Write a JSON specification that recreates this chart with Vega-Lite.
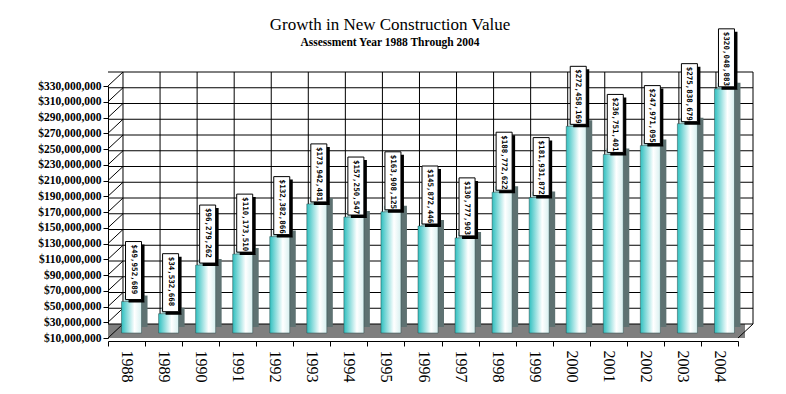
{
  "$schema": "https://vega.github.io/schema/vega-lite/v6.json",
  "width": 630,
  "height": 252,
  "autosize": {"type": "none"},
  "padding": {"left": 108, "top": 86, "right": 48, "bottom": 56},
  "background": "white",
  "config": {"view": {"stroke": null}, "axisY": {"labelOverlap": false}, "axis": {"labelOverlap": false}},
  "title": {
    "text": "Growth in New Construction Value",
    "subtitle": "Assessment Year 1988 Through 2004",
    "font": "Liberation Serif",
    "fontSize": 17,
    "fontWeight": "normal",
    "color": "black",
    "subtitleFont": "Liberation Serif",
    "subtitleFontSize": 11.5,
    "subtitleFontWeight": "bold",
    "subtitleColor": "black",
    "subtitlePadding": 3,
    "anchor": "middle",
    "frame": "group",
    "dx": -33,
    "offset": -21
  },
  "datasets": {
    "vals": [
      {"year": "1988", "v": 49952689},
      {"year": "1989", "v": 34532668},
      {"year": "1990", "v": 96279262},
      {"year": "1991", "v": 110173510},
      {"year": "1992", "v": 132382866},
      {"year": "1993", "v": 173942481},
      {"year": "1994", "v": 157250547},
      {"year": "1995", "v": 163908125},
      {"year": "1996", "v": 145872446},
      {"year": "1997", "v": 130777903},
      {"year": "1998", "v": 188772622},
      {"year": "1999", "v": 181931872},
      {"year": "2000", "v": 272458169},
      {"year": "2001", "v": 236751401},
      {"year": "2002", "v": 247971095},
      {"year": "2003", "v": 275838679},
      {"year": "2004", "v": 320048883}
    ],
    "grid": [
      {"g": 10000000}, {"g": 30000000}, {"g": 50000000}, {"g": 70000000},
      {"g": 90000000}, {"g": 110000000}, {"g": 130000000}, {"g": 150000000},
      {"g": 170000000}, {"g": 190000000}, {"g": 210000000}, {"g": 230000000},
      {"g": 250000000}, {"g": 270000000}, {"g": 290000000}, {"g": 310000000},
      {"g": 330000000}
    ]
  },
  "layer": [
    {
      "data": {"name": "grid"},
      "transform": [{"filter": "datum.g == 10000000"}],
      "mark": {"type": "rule", "color": "#7f7f7f", "strokeWidth": 14, "xOffset": 7, "x2Offset": 7, "yOffset": -7},
      "encoding": {
        "y": {"field": "g", "type": "quantitative", "scale": {"domain": [10000000, 330000000], "nice": false, "zero": false},
          "axis": {
            "values": [10000000, 30000000, 50000000, 70000000, 90000000, 110000000, 130000000, 150000000, 170000000, 190000000, 210000000, 230000000, 250000000, 270000000, 290000000, 310000000, 330000000],
            "tickCount": 40,
            "format": "$,.0f", "title": null, "grid": false, "labelOverlap": false,
            "labelFont": "Liberation Serif", "labelFontSize": 11.5, "labelFontWeight": "bold", "labelColor": "black",
            "domainColor": "black", "tickColor": "black", "tickSize": 5, "labelPadding": 2
          }
        }
      }
    },
    {
      "data": {"name": "grid"},
      "mark": {"type": "rule", "color": "black", "strokeWidth": 1, "xOffset": 15, "x2Offset": 15, "yOffset": -14},
      "encoding": {
        "y": {"field": "g", "type": "quantitative"}
      }
    },
    {
      "data": {"name": "vals"},
      "mark": {"type": "rule", "color": "black", "strokeWidth": 1, "xOffset": -3.53, "yOffset": -14, "y2Offset": -14},
      "encoding": {
        "x": {"field": "year", "type": "ordinal", "scale": {"paddingInner": 0, "paddingOuter": 0},
          "axis": {"title": null, "labelAngle": 90, "labelAlign": "left", "labelBaseline": "middle",
            "labelFont": "Liberation Serif", "labelFontSize": 16, "labelColor": "black", "labelPadding": 4,
            "tickBand": "extent", "tickColor": "black", "tickSize": 5, "domainColor": "black", "offset": 3}},
        "y": {"datum": 330000000, "type": "quantitative"},
        "y2": {"datum": 10000000}
      }
    },
    {
      "data": {"name": "vals"},
      "transform": [{"filter": "datum.year == '2004'"}],
      "mark": {"type": "rule", "color": "black", "strokeWidth": 1, "xOffset": 33.53, "yOffset": -14, "y2Offset": -14},
      "encoding": {
        "x": {"field": "year", "type": "ordinal"},
        "y": {"datum": 330000000, "type": "quantitative"},
        "y2": {"datum": 10000000}
      }
    },
    {
      "data": {"name": "grid"},
      "mark": {"type": "rule", "color": "black", "strokeWidth": 1, "xOffset": -18.53, "x2Offset": -3.53, "y2Offset": -14},
      "encoding": {
        "x": {"datum": "1988", "type": "ordinal"},
        "x2": {"datum": "1988"},
        "y": {"field": "g", "type": "quantitative"},
        "y2": {"field": "g"}
      }
    },
    {
      "data": {"name": "grid"},
      "transform": [{"filter": "datum.g == 10000000"}],
      "mark": {"type": "rule", "color": "black", "strokeWidth": 1, "xOffset": 18.53, "x2Offset": 33.53, "y2Offset": -14},
      "encoding": {
        "x": {"datum": "2004", "type": "ordinal"},
        "x2": {"datum": "2004"},
        "y": {"field": "g", "type": "quantitative"},
        "y2": {"field": "g"}
      }
    },
    {
      "data": {"name": "vals"},
      "mark": {"type": "bar", "size": 20, "color": "#5e7272", "xOffset": 11, "yOffset": -11, "y2Offset": -11},
      "encoding": {
        "x": {"field": "year", "type": "ordinal"},
        "y": {"field": "v", "type": "quantitative"},
        "y2": {"datum": 10000000}
      }
    },
    {
      "data": {"name": "vals"},
      "mark": {"type": "bar", "size": 20, "color": "#a8d4d4", "xOffset": 8, "yOffset": -11, "y2Offset": -5},
      "encoding": {
        "x": {"field": "year", "type": "ordinal"},
        "y": {"field": "v", "type": "quantitative"},
        "y2": {"field": "v"}
      }
    },
    {
      "data": {"name": "vals"},
      "mark": {"type": "bar", "size": 20, "xOffset": 5, "yOffset": -5, "y2Offset": -5,
        "stroke": "#2a4a4a", "strokeWidth": 0.5,
        "color": {"gradient": "linear", "x1": 0, "x2": 1, "y1": 0, "y2": 0,
          "stops": [{"offset": 0, "color": "#30c0c0"}, {"offset": 0.65, "color": "#ffffff"}, {"offset": 1, "color": "#d8f0f0"}]}},
      "encoding": {
        "x": {"field": "year", "type": "ordinal"},
        "y": {"field": "v", "type": "quantitative"},
        "y2": {"datum": 10000000}
      }
    },
    {
      "data": {"name": "vals"},
      "mark": {"type": "bar", "size": 16, "color": "black", "xOffset": 10, "yOffset": -62, "y2Offset": -4},
      "encoding": {
        "x": {"field": "year", "type": "ordinal"},
        "y": {"field": "v", "type": "quantitative"},
        "y2": {"field": "v"}
      }
    },
    {
      "data": {"name": "vals"},
      "mark": {"type": "bar", "size": 16, "color": "white", "stroke": "black", "strokeWidth": 1, "xOffset": 7, "yOffset": -65, "y2Offset": -7},
      "encoding": {
        "x": {"field": "year", "type": "ordinal"},
        "y": {"field": "v", "type": "quantitative"},
        "y2": {"field": "v"}
      }
    },
    {
      "data": {"name": "vals"},
      "mark": {"type": "text", "angle": 90, "align": "left", "baseline": "middle", "font": "DejaVu Sans Mono", "fontWeight": "bold", "fontSize": 7.5, "color": "black", "xOffset": 7, "yOffset": -62},
      "encoding": {
        "x": {"field": "year", "type": "ordinal"},
        "y": {"field": "v", "type": "quantitative"},
        "text": {"field": "v", "type": "quantitative", "format": "$,.0f"}
      }
    }
  ]
}
